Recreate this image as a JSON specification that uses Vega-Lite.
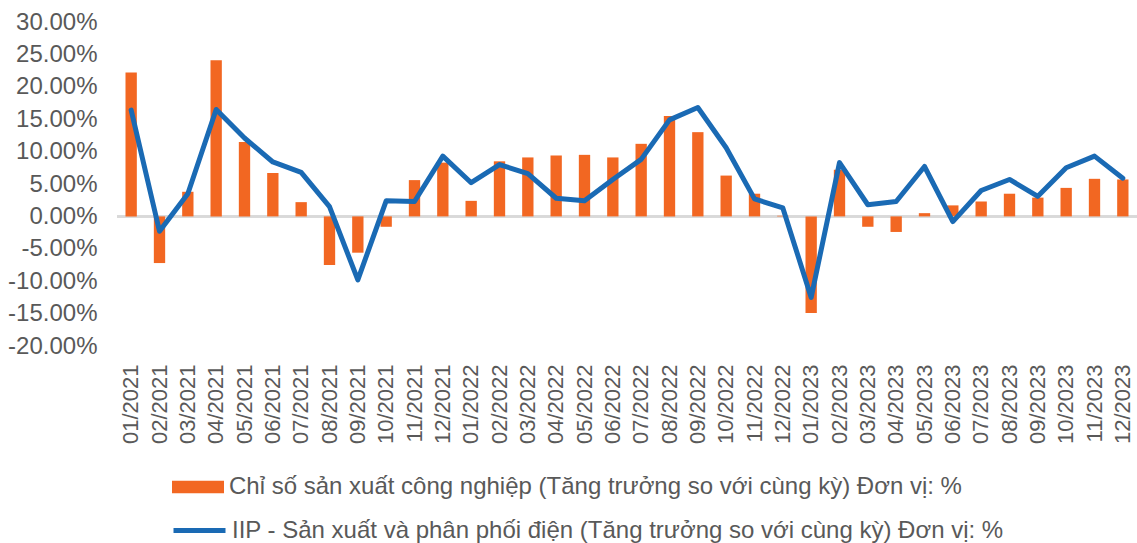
{
  "$schema": "https://vega.github.io/schema/vega-lite/v6.json",
  "autosize": "none",
  "width": 1020,
  "height": 324,
  "padding": {"left": 117, "top": 22, "right": 0, "bottom": 197},
  "background": "white",
  "config": {
    "view": {"stroke": null},
    "font": "Liberation Sans",
    "axis": {"labelFont": "Liberation Sans", "labelColor": "#595959", "grid": false, "domain": false, "ticks": false, "title": null, "labelOverlap": false},
    "legend": {"labelFont": "Liberation Sans", "labelColor": "#595959", "labelFontSize": 24, "title": null, "labelLimit": 0}
  },
  "data": {"values": [
    {"month": "01/2021", "iip": 0.222, "elec": 0.164},
    {"month": "02/2021", "iip": -0.072, "elec": -0.023},
    {"month": "03/2021", "iip": 0.038, "elec": 0.035},
    {"month": "04/2021", "iip": 0.241, "elec": 0.165},
    {"month": "05/2021", "iip": 0.115, "elec": 0.121},
    {"month": "06/2021", "iip": 0.067, "elec": 0.084},
    {"month": "07/2021", "iip": 0.022, "elec": 0.068},
    {"month": "08/2021", "iip": -0.075, "elec": 0.015},
    {"month": "09/2021", "iip": -0.056, "elec": -0.098},
    {"month": "10/2021", "iip": -0.016, "elec": 0.024},
    {"month": "11/2021", "iip": 0.056, "elec": 0.023},
    {"month": "12/2021", "iip": 0.083, "elec": 0.093},
    {"month": "01/2022", "iip": 0.024, "elec": 0.052},
    {"month": "02/2022", "iip": 0.085, "elec": 0.080},
    {"month": "03/2022", "iip": 0.091, "elec": 0.066},
    {"month": "04/2022", "iip": 0.094, "elec": 0.028},
    {"month": "05/2022", "iip": 0.095, "elec": 0.024},
    {"month": "06/2022", "iip": 0.091, "elec": 0.057},
    {"month": "07/2022", "iip": 0.112, "elec": 0.088},
    {"month": "08/2022", "iip": 0.155, "elec": 0.149},
    {"month": "09/2022", "iip": 0.130, "elec": 0.168},
    {"month": "10/2022", "iip": 0.063, "elec": 0.106},
    {"month": "11/2022", "iip": 0.035, "elec": 0.027},
    {"month": "12/2022", "iip": 0.001, "elec": 0.013},
    {"month": "01/2023", "iip": -0.149, "elec": -0.125},
    {"month": "02/2023", "iip": 0.072, "elec": 0.083},
    {"month": "03/2023", "iip": -0.016, "elec": 0.018},
    {"month": "04/2023", "iip": -0.024, "elec": 0.023},
    {"month": "05/2023", "iip": 0.005, "elec": 0.077},
    {"month": "06/2023", "iip": 0.017, "elec": -0.008},
    {"month": "07/2023", "iip": 0.023, "elec": 0.040},
    {"month": "08/2023", "iip": 0.035, "elec": 0.057},
    {"month": "09/2023", "iip": 0.029, "elec": 0.031},
    {"month": "10/2023", "iip": 0.044, "elec": 0.075},
    {"month": "11/2023", "iip": 0.058, "elec": 0.093},
    {"month": "12/2023", "iip": 0.057, "elec": 0.059}
  ]},
  "encoding": {
    "x": {
      "field": "month", "type": "ordinal", "sort": null,
      "scale": {"paddingInner": 0.6, "paddingOuter": 0.3},
      "axis": {"labelAngle": -90, "labelFontSize": 22, "labelPadding": 18, "labelBaseline": "middle", "labelAlign": "right"}
    }
  },
  "layer": [
    {
      "mark": {"type": "rule", "color": "#d9d9d9", "strokeWidth": 2},
      "encoding": {
        "y": {"datum": 0, "type": "quantitative",
          "scale": {"domain": [-0.2, 0.3], "nice": false, "zero": false},
          "axis": {"values": [-0.2, -0.15, -0.1, -0.05, 0, 0.05, 0.1, 0.15, 0.2, 0.25, 0.3], "tickCount": 11, "labelExpr": "replace(format(datum.value, '.2%'), '\u2212', '-')", "labelFontSize": 24, "labelPadding": 20, "labelOverlap": false}
        },
        "x": null
      }
    },
    {
      "mark": {"type": "bar"},
      "encoding": {
        "y": {
          "field": "iip", "type": "quantitative",
          "scale": {"domain": [-0.2, 0.3], "nice": false, "zero": false},
          "axis": {"values": [-0.2, -0.15, -0.1, -0.05, 0, 0.05, 0.1, 0.15, 0.2, 0.25, 0.3], "tickCount": 11, "labelExpr": "replace(format(datum.value, '.2%'), '\u2212', '-')", "labelFontSize": 24, "labelPadding": 20, "labelOverlap": false}
        },
        "fill": {
          "datum": "Chỉ số sản xuất công nghiệp (Tăng trưởng so với cùng kỳ) Đơn vị: %",
          "scale": {"range": ["#F26722"]},
          "legend": {"orient": "none", "legendX": 54, "legendY": 438, "symbolType": "M-1,-0.24H1V0.24H-1Z", "symbolSize": 2704, "symbolOpacity": 1, "labelOffset": 4}
        }
      }
    },
    {
      "mark": {"type": "line", "strokeWidth": 5, "strokeCap": "round", "strokeJoin": "round"},
      "encoding": {
        "y": {"field": "elec", "type": "quantitative",
          "axis": {"values": [-0.2, -0.15, -0.1, -0.05, 0, 0.05, 0.1, 0.15, 0.2, 0.25, 0.3], "tickCount": 11, "labelExpr": "replace(format(datum.value, '.2%'), '\u2212', '-')", "labelFontSize": 24, "labelPadding": 20, "labelOverlap": false}
        },
        "stroke": {
          "datum": "IIP - Sản xuất và phân phối điện (Tăng trưởng so với cùng kỳ) Đơn vị: %",
          "scale": {"range": ["#1A6AB4"]},
          "legend": {"orient": "none", "legendX": 54, "legendY": 480, "symbolType": "stroke", "symbolSize": 2704, "symbolStrokeWidth": 5, "labelOffset": 4}
        }
      }
    }
  ]
}
